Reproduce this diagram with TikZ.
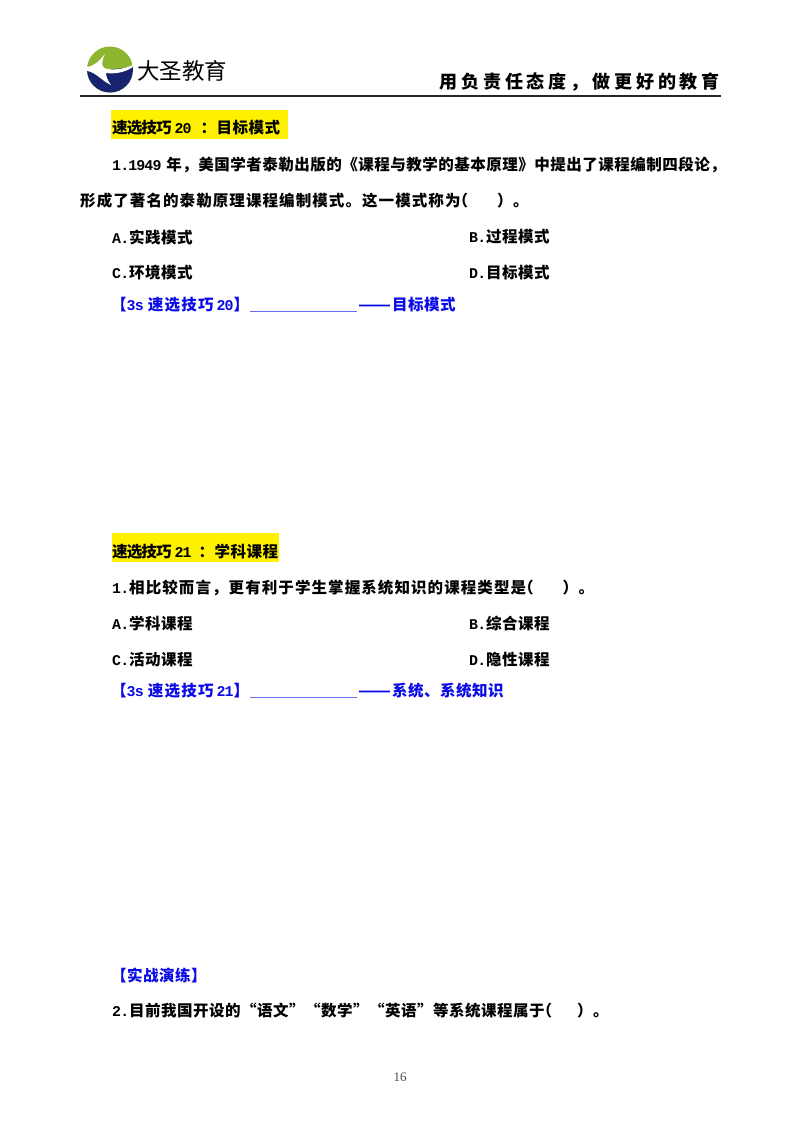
\documentclass[tikz,border=0pt]{standalone}
\usepackage{fontspec}
\setmainfont{Liberation Mono}[Scale=1.12,LetterSpace=-6]
\newfontfamily\cjk{Noto Sans CJK SC}[Scale=1.165,LetterSpace=3]
\newfontfamily\numfont{Liberation Serif}
\newcommand{\zh}[1]{{\cjk #1}}
\newcommand{\zhwide}[1]{{\cjk\addfontfeature{LetterSpace=6.8}#1}}
\newcommand{\dou}{\char"FF0C\relax}
\newcommand{\mao}{\char"FF1A\relax}
\newcommand{\kuo}[1]{\zh{\hspace{-8pt}\char"FF08\relax\hspace{#1}\char"FF09\relax 。}}
\newcommand{\headzh}[1]{{\cjk\addfontfeature{LetterSpace=-6}#1}}
\newcommand{\longdash}{\scalebox{1.24}[1]{\addfontfeature{LetterSpace=0}——}}
\definecolor{leafgreen}{HTML}{8DB52F}
\definecolor{deepnavy}{HTML}{16246F}
\definecolor{tipblue}{HTML}{0A0AE6}
\tikzset{
  body/.style={anchor=west,inner sep=0pt,font=\fontsize{13.33}{16}\selectfont\bfseries},
  tip/.style={body,text=tipblue},
  glow/.style={fill=yellow,draw=none}
}
\begin{document}
\begin{tikzpicture}[x=1pt,y=-1pt]
  \useasboundingbox (0,0) rectangle (800,1130);
  \fill[white] (0,0) rectangle (800,1130);
  % logo
  \begin{scope}
    \clip (110,69.5) circle (23);
    \fill[leafgreen] (87,46) rectangle (133,93);
    \fill[deepnavy] (87,69) .. controls (100,70) and (118,70) .. (133,66) -- (133,93) -- (87,93) -- cycle;
    \fill[white] (87,67) .. controls (95,66) and (100,60) .. (105,54) .. controls (102,60) and (101,65) .. (104,68)
      .. controls (112,71) and (124,69) .. (133,65) -- (133,67) .. controls (124,73) and (114,74) .. (106,73)
      .. controls (106,77) and (108,81) .. (111,85) .. controls (104,82) and (99,76) .. (93,73)
      .. controls (91,72) and (89,71) .. (87,71) -- cycle;
  \end{scope}
  \node[anchor=west,inner sep=0pt,font=\fontsize{19.3}{24}\selectfont] (brand) at (137,71) {\zh{\addfontfeature{LetterSpace=0}大圣教育}};
  \node[anchor=east,inner sep=0pt,font=\fontsize{15.5}{22}\selectfont\bfseries] (motto) at (720,82) {\zh{\addfontfeature{LetterSpace=21}用负责任态度\dou 做更好的教育}};
  \draw[line width=1.6pt,black!85] (80,96) -- (721,96);
  % first block
  \fill[glow] (111,110) rectangle (288,139);
  \node[body] (head20) at (112,128) {\headzh{速选技巧}\hspace{3pt}20\hspace{9pt}\zh{\mao 目标模式}};
  \node[body] (q1a) at (112,165) {1.1949\hspace{5pt}\zh{年\dou 美国学者泰勒出版的《课程与教学的基本原理》中提出了课程编制四段论\dou}};
  \node[body] (q1b) at (80,201) {\zhwide{形成了著名的泰勒原理课程编制模式。这一模式称为}\kuo{29pt}};
  \node[body] (a1) at (112,237) {A.\zh{实践模式}};
  \node[body] (b1) at (469,237) {B.\zh{过程模式}};
  \node[body] (c1) at (112,273) {C.\zh{环境模式}};
  \node[body] (d1) at (469,273) {D.\zh{目标模式}};
  \node[tip] (tip20) at (111,305) {\zh{【}3s\hspace{4pt}\zh{\addfontfeature{LetterSpace=8}速选技巧}\hspace{3pt}20\zh{】}};
  \draw[tipblue!60,line width=.8pt] (250,311) -- (357,311);
  \node[tip] (ans20) at (358,305) {\zh{\longdash\hspace{1pt}目标模式}};
  % second block
  \fill[glow] (112,533) rectangle (279,562);
  \node[body] (head21) at (112,552) {\headzh{速选技巧}\hspace{3pt}21\hspace{7pt}\zh{\mao 学科课程}};
  \node[body] (q2) at (112,588) {1.\zhwide{相比较而言\dou 更有利于学生掌握系统知识的课程类型是}\kuo{29pt}};
  \node[body] (a2) at (112,624) {A.\zh{学科课程}};
  \node[body] (b2) at (469,624) {B.\zh{综合课程}};
  \node[body] (c2) at (112,660) {C.\zh{活动课程}};
  \node[body] (d2) at (469,660) {D.\zh{隐性课程}};
  \node[tip] (tip21) at (111,691) {\zh{【}3s\hspace{4pt}\zh{\addfontfeature{LetterSpace=8}速选技巧}\hspace{3pt}21\zh{】}};
  \draw[tipblue!60,line width=.8pt] (250,697) -- (357,697);
  \node[tip] (ans21) at (358,691) {\zh{\longdash\hspace{1pt}系统、系统知识}};
  % practice
  \node[tip] (drill) at (111,975) {\zh{【实战演练】}};
  \node[body] (q3) at (112,1011) {2.\zh{目前我国开设的“语文”“数学”“英语”等系统课程属于}\kuo{25pt}};
  \node[inner sep=0pt,font=\numfont\fontsize{13}{14}\selectfont,text=black!70] (page) at (400,1077) {16};
\end{tikzpicture}
\end{document}
